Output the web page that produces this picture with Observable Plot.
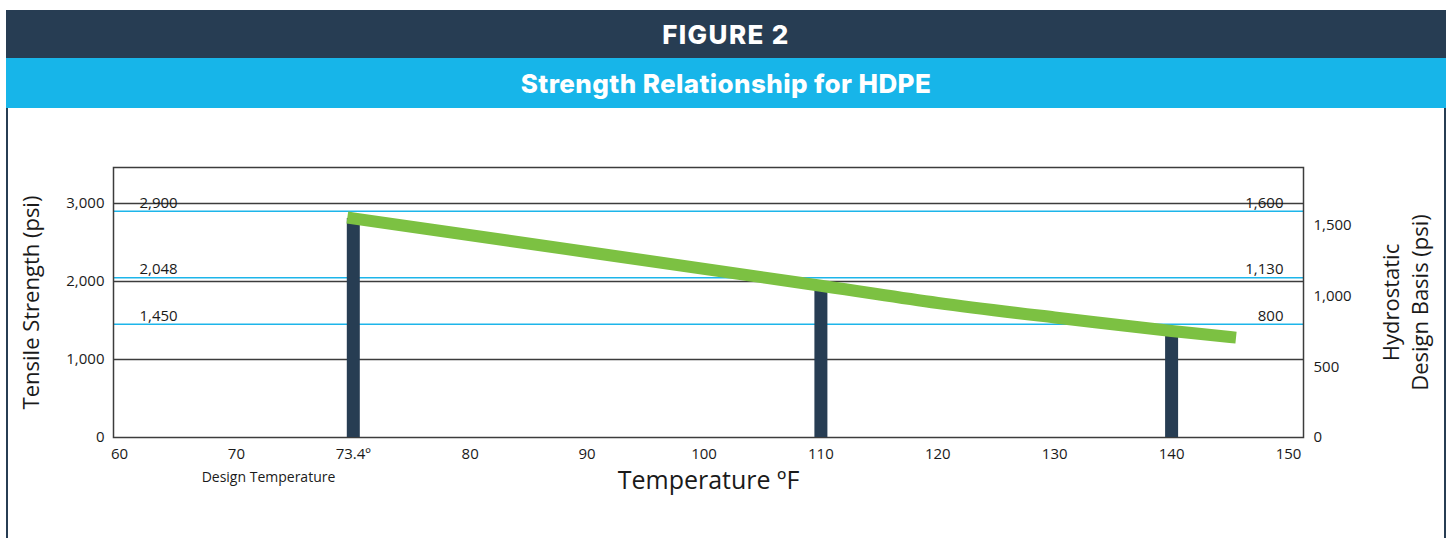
<!DOCTYPE html>
<html>
<head>
<meta charset="utf-8">
<script src="https://cdn.jsdelivr.net/npm/d3@7"></script>
<script src="https://cdn.jsdelivr.net/npm/@observablehq/plot@0.6"></script>
<style>
  html, body { margin: 0; padding: 0; background: #fff; overflow: hidden; }
  #wrap { position: absolute; left: 6px; top: 10px; width: 1440px; }
  .band { display: flex; align-items: center; justify-content: center; color: #fff;
          font-family: Inter, "Open Sans", sans-serif; font-weight: 800; font-size: 26px; letter-spacing: 0.4px; }
  #b1 { height: 48px; background: #273d53; letter-spacing: 1.4px; }
  #b2 { height: 50px; background: #17b5e9; }
  #chart { border-left: 2px solid #273d53; border-right: 2px solid #273d53; height: 460px; background: #fff; }
  #chart svg { display: block; }
</style>
</head>
<body>
<div id="wrap">
  <div class="band" id="b1">FIGURE 2</div>
  <div class="band" id="b2">Strength Relationship for HDPE</div>
  <div id="chart"></div>
</div>
<script>
// ---- data ----
const xTickValues = [60, 70, 73.4, 80, 90, 100, 110, 120, 130, 140, 150];
const xTickLabels = ["60", "70", "73.4º", "80", "90", "100", "110", "120", "130", "140", "150"];
const tsTicks = [0, 1000, 2000, 3000];
const hdbTicks = [0, 500, 1000, 1500];
const refTS = [2900, 2048, 1450];
const refHDB = [1600, 1130, 800];
const barTemps = [73.4, 110, 140];
const curveTemps = [73.4, 110, 120, 130, 140, 145];
const curveTS = [2808, 1945, 1724, 1538, 1365, 1288];

// ---- derived tables ----
const xIndex = d3.scaleLinear().domain(xTickValues).range(d3.range(xTickValues.length));
const curve = curveTemps.map((t, i) => ({temp: t, ts: curveTS[i]}));
const bars = barTemps.map(t => curve.find(c => c.temp === t));
const refs = refTS.map((t, i) => ({ts: t, hdb: refHDB[i]}));
const tsPerHdb = refTS[0] / refHDB[0];
const fmt = d3.format(",");

const navy = "#273d53", green = "#7cc142", cyan = "#1db5ea", grid = "#3c3c3c";

const chart = Plot.plot({
  width: 1436,
  height: 430,
  marginLeft: 105,
  marginRight: 141,
  marginTop: 59,
  marginBottom: 101,
  style: {fontFamily: "'Open Sans', sans-serif", fontSize: "15px", color: "#1a1a1a", background: "white"},
  x: {domain: [0, xTickValues.length - 1], insetLeft: 6, insetRight: 15},
  y: {domain: [0, 3460]},
  marks: [
    Plot.ruleY(tsTicks.filter(d => d > 0), {stroke: grid, strokeWidth: 1.5}),
    Plot.ruleY(refs, {y: "ts", stroke: cyan, strokeWidth: 1.5}),
    Plot.frame({stroke: grid, strokeWidth: 1.5}),
    Plot.ruleX(bars, {x: d => xIndex(d.temp), y1: 0, y2: "ts", stroke: navy, strokeWidth: 13}),
    Plot.line(curve, {x: d => xIndex(d.temp), y: "ts", stroke: green, strokeWidth: 12,
      curve: "catmull-rom", strokeLinecap: "square"}),
    Plot.text(refs, {y: "ts", text: d => fmt(d.ts), frameAnchor: "left", textAnchor: "start", dx: 26, dy: -8, fontSize: 15}),
    Plot.text(refs, {y: "ts", text: d => fmt(d.hdb), frameAnchor: "right", textAnchor: "end", dx: -20, dy: -8, fontSize: 15}),
    Plot.axisX({ticks: d3.range(xTickValues.length), tickFormat: i => xTickLabels[Math.round(i)],
      tickSize: 0, tickPadding: 11, label: null, fontSize: 15}),
    Plot.axisY({ticks: tsTicks, tickFormat: fmt, tickSize: 0, tickPadding: 9, label: null, fontSize: 15}),
    Plot.axisY({anchor: "right", ticks: hdbTicks.map(h => h * tsPerHdb),
      tickFormat: d => fmt(Math.round(d / tsPerHdb)), tickSize: 0, tickPadding: 10, label: null, fontSize: 15}),
    Plot.text(["Tensile Strength (psi)"], {frameAnchor: "left", textAnchor: "middle", rotate: -90, dx: -82, fontSize: 22}),
    Plot.text(["Hydrostatic\nDesign Basis (psi)"], {frameAnchor: "right", textAnchor: "middle", rotate: -90, dx: 101, fontSize: 22, lineHeight: 1.3}),
    Plot.text(["Temperature ºF"], {frameAnchor: "bottom", dy: 51, fontSize: 25}),
    Plot.text(["Design Temperature"], {x: [xIndex(73.4)], frameAnchor: "bottom", textAnchor: "end", dx: -18, dy: 44, fontSize: 14})
  ]
});
document.getElementById("chart").appendChild(chart);
</script>
</body>
</html>
